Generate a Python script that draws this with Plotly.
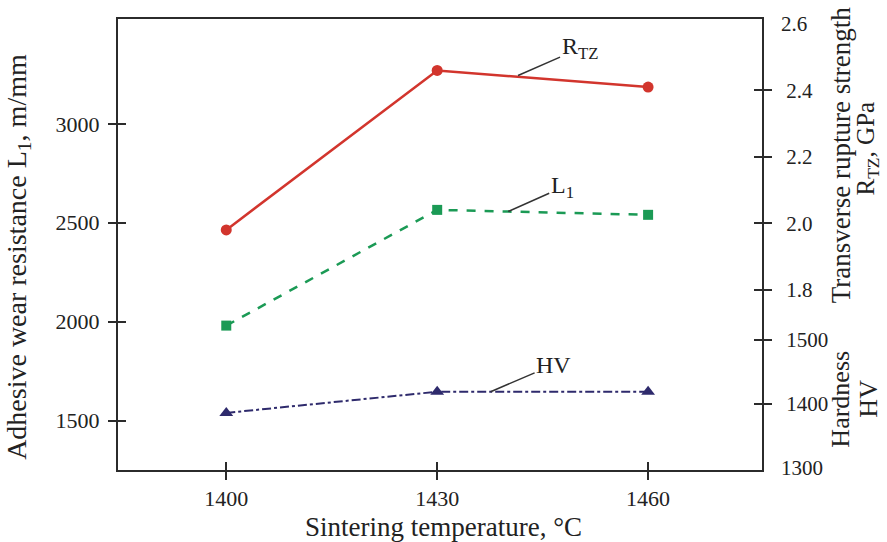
import plotly.graph_objects as go

temps = [1400, 1430, 1460]
L1 = [1980, 2565, 2540]
RTZ = [1.98, 2.46, 2.41]
HV = [1386, 1419, 1419]

x_ticks = [1400, 1430, 1460]
l_ticks = [1500, 2000, 2500, 3000]
r_ticks = [1.8, 2.0, 2.2, 2.4]
r_ticktext = ["1.8", "2.0", "2.2", "2.4"]
r_top_tick = [2.6]
r_top_text = ["2.6"]
hv_ticks = [1400, 1500]
hv_bottom_tick = [1300]

FONT = "Liberation Serif"
AX = "#2b2b2b"
red = "#d2352d"
green = "#1b9a55"
navy = "#2e2a6c"

xr = [1384.6, 1476.2]
yl = [1250, 3530]
yg = [1.257, 2.615]
yh = [1297, 2000]

fig = go.Figure()
fig.add_trace(go.Scatter(x=temps, y=L1, mode="lines+markers", xaxis="x", yaxis="y",
                         line=dict(color=green, width=2.5, dash="dash"),
                         marker=dict(symbol="square", size=10, color=green), showlegend=False))
fig.add_trace(go.Scatter(x=temps, y=RTZ, mode="lines+markers", xaxis="x", yaxis="y2",
                         line=dict(color=red, width=2.5),
                         marker=dict(symbol="circle", size=11, color=red), showlegend=False))
fig.add_trace(go.Scatter(x=temps, y=HV, mode="lines+markers", xaxis="x", yaxis="y3",
                         line=dict(color=navy, width=2, dash="dashdot"),
                         marker=dict(symbol="triangle-up", size=12, color=navy), showlegend=False))
# empty traces to activate duplicate (inside-tick / label-only) axes
for xa, ya in [("x2", "y4"), ("x", "y5"), ("x", "y6"), ("x", "y7"), ("x", "y8")]:
    fig.add_trace(go.Scatter(x=[], y=[], xaxis=xa, yaxis=ya, showlegend=False, hoverinfo="skip"))

tickfont = dict(family=FONT, size=22, color="#222")
rtickfont = dict(family=FONT, size=21, color="#222")
common = dict(showgrid=False, zeroline=False, showline=True, linecolor=AX, linewidth=2,
              tickcolor=AX, tickwidth=2, ticklen=8)
labelonly = dict(showgrid=False, zeroline=False, showline=False, ticks="",
                 tickfont=rtickfont, overlaying="y", anchor="x", side="right",
                 ticklabelstandoff=18)

fig.update_layout(
    width=887, height=542,
    margin=dict(l=118, r=125, t=15, b=72),
    paper_bgcolor="white", plot_bgcolor="white",
    font=dict(family=FONT, size=22, color="#222"),
    xaxis=dict(range=xr, tickvals=x_ticks, ticks="outside", tickfont=tickfont,
               mirror=True, ticklabelstandoff=0, **common),
    xaxis2=dict(range=xr, tickvals=x_ticks, ticks="inside", showticklabels=False,
                overlaying="x", anchor="y", side="bottom", **common),
    yaxis=dict(range=yl, tickvals=l_ticks, ticks="outside", tickfont=tickfont,
               ticklabelstandoff=4, **common),
    yaxis4=dict(range=yl, tickvals=l_ticks, ticks="inside", showticklabels=False,
                overlaying="y", anchor="x", side="left", **common),
    yaxis2=dict(range=yg, tickvals=r_ticks, ticktext=r_ticktext, ticks="outside",
                tickfont=rtickfont, overlaying="y", anchor="x", side="right",
                ticklabelstandoff=10, **common),
    yaxis5=dict(range=yg, tickvals=r_ticks, ticks="inside", showticklabels=False,
                overlaying="y", anchor="x", side="right", **common),
    yaxis3=dict(range=yh, tickvals=hv_ticks, ticks="outside", tickfont=rtickfont,
                overlaying="y", anchor="x", side="right", ticklabelstandoff=10, **common),
    yaxis6=dict(range=yh, tickvals=hv_ticks, ticks="inside", showticklabels=False,
                overlaying="y", anchor="x", side="right", **common),
    yaxis7=dict(range=yg, tickvals=r_top_tick, ticktext=r_top_text, **labelonly),
    yaxis8=dict(range=yh, tickvals=hv_bottom_tick, **labelonly),
)

anns = [
    dict(text="Sintering temperature, °C", x=0.506, y=-0.127, textangle=0, size=27),
    dict(text="Adhesive wear resistance L<sub>1</sub>, m/mm", x=-0.155, y=0.473, textangle=-90, size=28),
    dict(text="Transverse rupture strength", x=1.1227, y=0.698, textangle=-90, size=27),
    dict(text="R<sub>TZ</sub>, GPa", x=1.164, y=0.712, textangle=-90, size=25),
    dict(text="Hardness", x=1.1225, y=0.158, textangle=-90, size=26),
    dict(text="HV", x=1.166, y=0.158, textangle=-90, size=26),
]
for a in anns:
    size = a.pop("size")
    fig.add_annotation(xref="paper", yref="paper", showarrow=False, xanchor="center",
                       yanchor="middle", font=dict(family=FONT, size=size, color="#222"), **a)

# leader-line labels
lab_font = dict(family=FONT, size=24, color="#222")
fig.add_annotation(x=1441.5, y=2.445, xref="x", yref="y2", text="R<sub>TZ</sub>",
                   ax=62, ay=-27, showarrow=True, arrowhead=0, arrowwidth=1.5,
                   arrowcolor="#333", font=lab_font)
fig.add_annotation(x=1440.1, y=2557, xref="x", yref="y", text="L<sub>1</sub>",
                   ax=54, ay=-24, showarrow=True, arrowhead=0, arrowwidth=1.5,
                   arrowcolor="#333", font=lab_font)
fig.add_annotation(x=1437.6, y=1419, xref="x", yref="y3", text="HV",
                   ax=63, ay=-27, showarrow=True, arrowhead=0, arrowwidth=1.5,
                   arrowcolor="#333", font=lab_font)

fig.write_html("out.html")
